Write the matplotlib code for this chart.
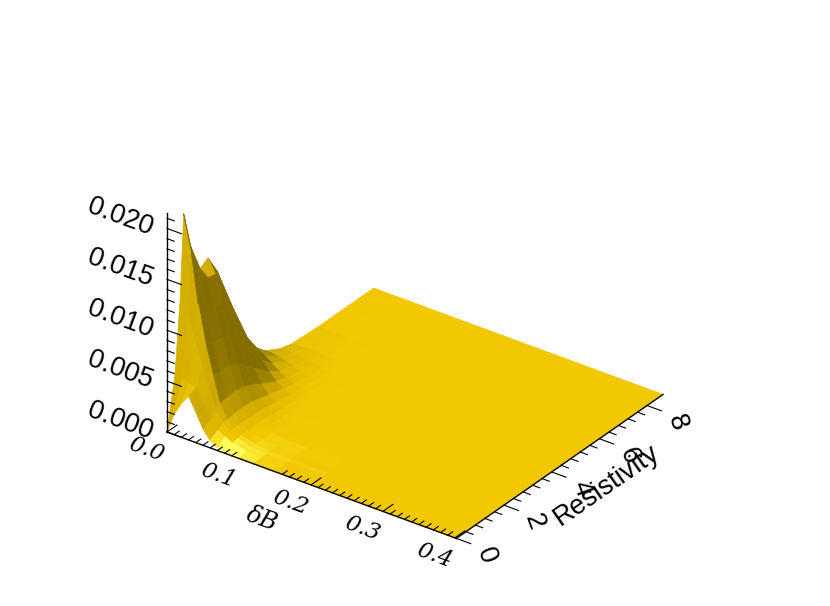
import numpy as np
import matplotlib
matplotlib.use('Agg')
import matplotlib.pyplot as plt
from mpl_toolkits.mplot3d import proj3d

db = [0, .01, .02, .03, .04, .05, .06, .07, .08, .09, .10, .12, .15, .20, .402]
res = [0, .33, .55, .7, 1.0, 1.39, 1.72, 2.1, 2.44, 3.07, 3.5, 4.1, 4.7, 5.2, 6.3, 8.67]
# rows follow res, columns follow db, in units of 0.001
dens = [
    [0, 2.0, 3.3, 4.3, 3.0, 1.6, .7, .3, .15, .1, .05, 0, 0, 0, 0],
    [5.0, 5.0, 4.8, 4.6, 3.4, 2.1, 1.2, .8, .45, .3, .15, .03, 0, 0, 0],
    [12.0, 11.5, 9.0, 6.8, 4.4, 2.6, 1.5, .95, .55, .35, .2, .05, 0, 0, 0],
    [20.3, 17.0, 12.0, 8.4, 5.6, 3.0, 1.65, 1.0, .6, .38, .22, .06, .01, 0, 0],
    [16.6, 14.8, 11.0, 8.0, 5.4, 3.1, 1.75, 1.05, .62, .4, .24, .07, .01, 0, 0],
    [13.8, 13.2, 10.6, 7.8, 5.3, 3.2, 1.8, 1.05, .62, .4, .24, .08, .02, 0, 0],
    [14.3, 13.0, 10.2, 7.4, 5.0, 3.0, 1.75, 1.0, .6, .36, .2, .07, .02, 0, 0],
    [12.4, 11.0, 8.6, 6.2, 4.2, 2.6, 1.5, .85, .48, .28, .16, .06, .02, 0, 0],
    [9.8, 8.6, 6.7, 4.9, 3.4, 2.1, 1.25, .72, .42, .24, .14, .05, .02, 0, 0],
    [4.9, 4.5, 3.7, 2.8, 2.0, 1.3, .8, .48, .28, .16, .09, .03, .01, 0, 0],
    [2.8, 2.7, 2.3, 1.8, 1.3, .9, .56, .34, .2, .12, .07, .02, 0, 0, 0],
    [1.3, 1.3, 1.2, 1.0, .8, .56, .36, .22, .13, .08, .04, .01, 0, 0, 0],
    [.5, .6, .6, .55, .44, .32, .2, .12, .07, .04, .02, 0, 0, 0, 0],
    [.15, .25, .3, .3, .24, .17, .1, .06, .03, .02, 0, 0, 0, 0, 0],
    [0, .05, .07, .07, .05, .03, .02, .01, 0, 0, 0, 0, 0, 0, 0],
    [0, 0, 0, 0, 0, 0, 0, 0, 0, 0, 0, 0, 0, 0, 0],
]
xmajor = [0.0, 0.1, 0.2, 0.3, 0.4]
xlabels = ['0.0', '0.1', '0.2', '0.3', '0.4']
ymajor = [0, 2, 4, 6, 8]
ylabels = ['0', '2', '4', '6', '8']
zmajor = [0.0, 0.005, 0.010, 0.015, 0.020]
zlabels = ['0.000', '0.005', '0.010', '0.015', '0.020']
xmax = 0.402
ymax = 8.67
zmax = 0.0215

X, Y = np.meshgrid(db, res)
Z = np.array(dens) * 1e-3


def shade(X, Y, Z):
    # flat lighting per facet, gradient taken in box units
    px = X / xmax
    py = Y / ymax
    pz = Z / zmax
    a = np.dstack([px[1:, 1:] - px[:-1, :-1], py[1:, 1:] - py[:-1, :-1], pz[1:, 1:] - pz[:-1, :-1]])
    b = np.dstack([px[:-1, 1:] - px[1:, :-1], py[:-1, 1:] - py[1:, :-1], pz[:-1, 1:] - pz[1:, :-1]])
    n = np.cross(a, b)
    n = n / np.linalg.norm(n, axis=2, keepdims=True)
    n[n[:, :, 2] < 0] *= -1
    light = np.array([.1, -.5, .86])
    light = light / np.linalg.norm(light)
    k = np.interp(n @ light, [.22, .5, .86, 1], [.55, .85, 1, 1.3])
    base = np.array([242, 200, 0]) / 255
    top = np.array([255, 255, 90]) / 255
    low = k[..., None] * base
    high = base + (np.clip(k, 1, 1.15)[..., None] - 1) / .15 * (top - base)
    rgb = np.where(k[..., None] < 1, low, high)
    return np.dstack([rgb, np.ones(k.shape)])


fig = plt.figure(figsize=(8.30, 6.06), dpi=100)
ax = fig.add_axes([0.1, 0.0, 0.73, 1.0], projection='3d', proj_type='ortho')
ax.computed_zorder = False
ax.view_init(elev=30.4, azim=-54)
ax.set_xlim(0, xmax)
ax.set_ylim(0, ymax)
ax.set_zlim(0, zmax)
ax.set_axis_off()
ax.set_box_aspect((358, 352, 254), zoom=1.0)

colors = shade(X, Y, Z)
surf = ax.plot_surface(X, Y, Z, facecolors=colors, shade=False, rstride=1, cstride=1,
                       linewidth=0.5, antialiased=True, zorder=2)
surf.set_edgecolor(colors.reshape(-1, 4))

lw = 1.0
ax.plot([0, xmax], [0, 0], [0, 0], color='k', lw=lw, zorder=4)
ax.plot([xmax, xmax], [0, ymax], [0, 0], color='k', lw=lw, zorder=4)
ax.plot([0, 0], [0, 0], [0, zmax], color='k', lw=lw, zorder=4)

# x ticks go inward, the hump hides those below 0.16
for i in range(41):
    v = i * 0.01
    ln = .42 if i % 10 == 0 else .21
    ax.plot([v, v], [0, ln], [0, 0], color='k', lw=lw * .8, zorder=1 if .09 < v < .16 else 4)
for i in range(21):
    v = i * 0.4
    ln = .02 if i % 5 == 0 else .01
    ax.plot([xmax, xmax + ln], [v, v], [0, 0], color='k', lw=lw * .8, zorder=4)
for i in range(22):
    v = i * 0.001
    ln = .02 if i % 5 == 0 else .01
    ax.plot([0, ln], [0, 0], [v, v], color='k', lw=lw * .8, zorder=4)

serif = dict(family='DejaVu Serif', style='italic', fontsize=16.5, ha='center', va='center',
             rotation_mode='anchor', color='k')
sans = dict(family='Liberation Sans', fontsize=19.5, ha='center', va='center',
            rotation_mode='anchor', color='k')
# zdir sets the text slope in a 3d axes: labels run along the box edges,
# the digits on the resistivity edge lie over at about 110 degrees
for v, s in zip(xmajor, xlabels):
    ax.text(v + .004, -0.98, 0, s, zdir='x', zorder=5, **serif)
ax.text(0.2, -2.07, 0, '\u03b4B', zdir='x', zorder=5, **{**serif, 'fontsize': 17})
for v, s in zip(ymajor, ylabels):
    ax.text(xmax + .049, v - .236, 0, s, zdir=(0, -1, .00806), zorder=5, **sans)
ax.text(xmax + .067, 4.27, 0, 'Resistivity', zdir='y', zorder=5, **sans)
for v, s in zip(zmajor, zlabels):
    ax.text(-.065, 0, v - .0006, s, zdir='x', zorder=5, **sans)


def to_pixels(x, y, z):
    a, b, _ = proj3d.proj_transform(x, y, z, ax.get_proj())
    return ax.transData.transform((a, b))


# line the box up with the reference corners
fig.canvas.draw()
p0 = to_pixels(0, 0, 0)
p1 = to_pixels(xmax, ymax, 0)
want0 = np.array([167, 606 - 432])
want1 = np.array([663, 606 - 392])
ax.set_box_aspect((358, 352, 254), zoom=(want1[0] - want0[0]) / (p1[0] - p0[0]))
fig.canvas.draw()
p0 = to_pixels(0, 0, 0)
shift = (want0 - p0) / np.array([830, 606])
pos = ax.get_position(original=True)
ax.set_position([pos.x0 + shift[0], pos.y0 + shift[1], pos.width, pos.height])

fig.savefig('out.png', dpi=100)
